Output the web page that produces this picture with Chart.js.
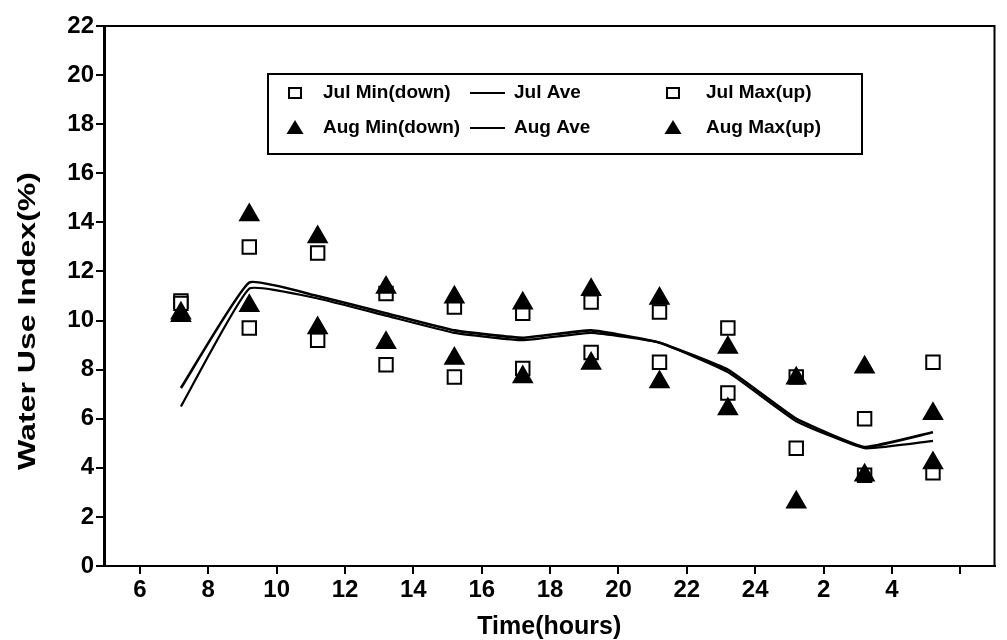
<!DOCTYPE html>
<html>
<head>
<meta charset="utf-8">
<script src="https://cdn.jsdelivr.net/npm/chart.js@4.4.1/dist/chart.umd.min.js"></script>
<style>
  html, body { margin: 0; padding: 0; background: #fff; }
  #wrap { width: 1007px; height: 640px; }
</style>
</head>
<body>
<div id="wrap"><canvas id="c" width="1007" height="640"></canvas></div>
<script>
// Sampling times (clock hours, running past midnight as 25, 27, 29)
const hours = [7.2, 9.2, 11.2, 13.2, 15.2, 17.2, 19.2, 21.2, 23.2, 25.2, 27.2, 29.2];

// Water use index (%) per series
const julMin = [10.7, 9.7, 9.2, 8.2, 7.7, 8.05, 8.7, 8.3, 7.05, 4.8, 3.7, 3.8];
const julAve = [6.5, 11.3, 10.9, 10.2, 9.5, 9.2, 9.5, 9.1, 7.9, 5.9, 4.8, 5.1];
const julMax = [10.8, 13.0, 12.75, 11.1, 10.55, 10.3, 10.75, 10.35, 9.7, 7.7, 6.0, 8.3];
const augMin = [10.2, 10.6, 9.7, 9.1, 8.45, 7.7, 8.25, 7.5, 6.4, 2.6, 3.7, 4.2];
const augAve = [7.25, 11.55, 11.0, 10.3, 9.6, 9.3, 9.6, 9.1, 8.0, 6.0, 4.85, 5.45];
const augMax = [10.3, 14.3, 13.4, 11.35, 10.95, 10.7, 11.25, 10.9, 8.9, 7.65, 8.1, 6.2];

// Axis ticks
const yTicks = [0, 2, 4, 6, 8, 10, 12, 14, 16, 18, 20, 22];
const xTickValues = [6, 8, 10, 12, 14, 16, 18, 20, 22, 24, 26, 28, 30];
const xTickLabels = ['6', '8', '10', '12', '14', '16', '18', '20', '22', '24', '2', '4', ''];

const seriesNames = ['Jul Min(down)', 'Jul Ave', 'Jul Max(up)', 'Aug Min(down)', 'Aug Ave', 'Aug Max(up)'];
const yTitle = 'Water Use Index(%)';
const xTitle = 'Time(hours)';

const FONT = "'Liberation Sans', Arial, sans-serif";
const pts = arr => hours.map((h, i) => ({ x: h, y: arr[i] }));

function markerSet(label, data, style, order) {
  const tri = style === 'triangle';
  return {
    label, data: pts(data), showLine: false, order,
    pointStyle: style,
    pointRadius: tri ? 10.5 : 9.5,
    pointBorderWidth: 2,
    pointBorderColor: '#000',
    pointBackgroundColor: tri ? '#000' : '#fff',
    pointHoverRadius: tri ? 10.5 : 9.5
  };
}
function lineSet(label, data, width) {
  return {
    label, data: pts(data), showLine: true, order: 0,
    borderColor: '#000', borderWidth: width, tension: 0.12,
    pointRadius: 0, pointHoverRadius: 0, fill: false
  };
}

const datasets = [
  markerSet(seriesNames[0], julMin, 'rect', 2),
  markerSet(seriesNames[2], julMax, 'rect', 2),
  markerSet(seriesNames[3], augMin, 'triangle', 1),
  markerSet(seriesNames[5], augMax, 'triangle', 1),
  lineSet(seriesNames[1], julAve, 2.2),
  lineSet(seriesNames[4], augAve, 2.6)
];

// Boxed legend inside the plot, three columns by two rows
const boxLegend = {
  id: 'boxLegend',
  afterDatasetsDraw(chart) {
    const ctx = chart.ctx;
    const bx = 268, by = 74, bw = 594, bh = 80;
    ctx.save();
    ctx.fillStyle = '#fff';
    ctx.fillRect(bx, by, bw, bh);
    ctx.strokeStyle = '#000';
    ctx.lineWidth = 2;
    ctx.strokeRect(bx, by, bw, bh);
    ctx.font = 'bold 19px ' + FONT;
    ctx.textBaseline = 'middle';
    ctx.textAlign = 'left';
    const rows = [93, 128];
    const cols = [
      { kind: 'marker', mx: 295, tx: 323 },
      { kind: 'line', lx0: 470, lx1: 505, tx: 514 },
      { kind: 'marker', mx: 673, tx: 706 }
    ];
    const byLabel = {};
    chart.data.datasets.forEach(d => { byLabel[d.label] = d; });
    const grid = [
      [seriesNames[0], seriesNames[1], seriesNames[2]],
      [seriesNames[3], seriesNames[4], seriesNames[5]]
    ];
    grid.forEach((row, r) => {
      row.forEach((name, c) => {
        const col = cols[c], y = rows[r], ds = byLabel[name];
        ctx.strokeStyle = '#000';
        if (col.kind === 'marker') {
          if (ds.pointStyle === 'triangle') {
            ctx.beginPath();
            ctx.moveTo(col.mx, y - 8);
            ctx.lineTo(col.mx + 8.5, y + 6);
            ctx.lineTo(col.mx - 8.5, y + 6);
            ctx.closePath();
            ctx.fillStyle = '#000';
            ctx.fill();
          } else {
            ctx.fillStyle = '#fff';
            ctx.fillRect(col.mx - 6, y - 5, 12, 10);
            ctx.lineWidth = 2;
            ctx.strokeRect(col.mx - 6, y - 5, 12, 10);
          }
        } else {
          ctx.beginPath();
          ctx.moveTo(col.lx0, y);
          ctx.lineTo(col.lx1, y);
          ctx.lineWidth = 2;
          ctx.stroke();
        }
        ctx.fillStyle = '#000';
        ctx.fillText(name, col.tx, y);
      });
    });
    ctx.restore();
  }
};

// Plot frame (top and right edges) and the vertical axis title
const frame = {
  id: 'frame',
  beforeDatasetsDraw(chart) {
    const a = chart.chartArea, ctx = chart.ctx;
    ctx.save();
    ctx.strokeStyle = '#000';
    ctx.lineWidth = 2;
    ctx.beginPath();
    ctx.moveTo(a.left, a.top);
    ctx.lineTo(a.right, a.top);
    ctx.lineTo(a.right, a.bottom);
    ctx.stroke();
    // y-axis title, widened along its run
    ctx.translate(28, 321);
    ctx.rotate(-Math.PI / 2);
    ctx.font = 'bold 24px ' + FONT;
    const w = ctx.measureText(yTitle).width;
    ctx.scale(298 / w, 1);
    ctx.fillStyle = '#000';
    ctx.textAlign = 'center';
    ctx.textBaseline = 'middle';
    ctx.fillText(yTitle, 0, 0);
    ctx.restore();
  }
};

new Chart(document.getElementById('c'), {
  type: 'scatter',
  data: { datasets },
  options: {
    responsive: false,
    animation: false,
    devicePixelRatio: 1,
    layout: { padding: { top: 26, right: 10, left: 0, bottom: 0 } },
    plugins: { legend: { display: false }, tooltip: { enabled: false } },
    scales: {
      x: {
        type: 'linear', min: 4.95, max: 31,
        afterFit(scale) { scale.height = 74; },
        afterBuildTicks(scale) { scale.ticks = xTickValues.map(v => ({ value: v })); },
        ticks: {
          includeBounds: false, autoSkip: false, maxRotation: 0, padding: 2,
          color: '#000', font: { family: FONT, size: 24, weight: 'bold' },
          callback: v => xTickLabels[xTickValues.indexOf(v)] ?? ''
        },
        grid: { drawOnChartArea: false, drawTicks: true, tickLength: 8, color: '#000', lineWidth: 2 },
        border: { color: '#000', width: 2 },
        title: {
          display: true, text: xTitle, color: '#000',
          font: { family: FONT, size: 25, weight: 'bold', lineHeight: 1 }, padding: { top: 0, bottom: 0 }
        }
      },
      y: {
        type: 'linear', min: 0, max: 22,
        afterFit(scale) { scale.width = 104; },
        afterBuildTicks(scale) { scale.ticks = yTicks.map(v => ({ value: v })); },
        ticks: {
          autoSkip: false, padding: 2, color: '#000',
          font: { family: FONT, size: 24, weight: 'bold' }
        },
        grid: { drawOnChartArea: false, drawTicks: true, tickLength: 8, color: '#000', lineWidth: 2 },
        border: { color: '#000', width: 3 },
        title: { display: false }
      }
    }
  },
  plugins: [frame, boxLegend]
});
</script>
</body>
</html>
